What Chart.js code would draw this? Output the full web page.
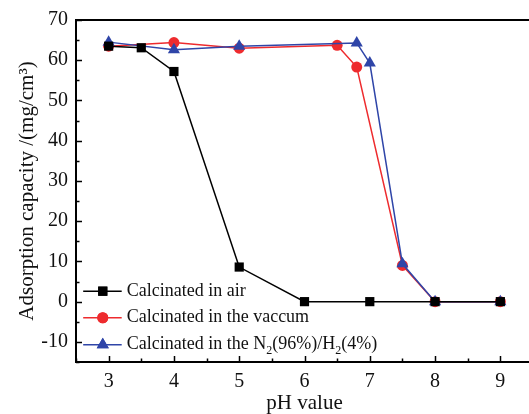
<!DOCTYPE html>
<html>
<head>
<meta charset="utf-8">
<script src="https://cdn.jsdelivr.net/npm/chart.js@4/dist/chart.umd.min.js"></script>
<style>
html,body{margin:0;padding:0;background:#fff;overflow:hidden;width:529px;height:414px;}
#wrap{position:relative;width:540px;height:414px;}
</style>
</head>
<body>
<div id="wrap"><canvas id="c" width="540" height="414"></canvas></div>
<script>
// ---- data ----
const seriesNames = ["Calcinated in air", "Calcinated in the vaccum", "Calcinated in the N2(96%)/H2(4%)"];
const phAir = [3, 3.5, 4, 5, 6, 7, 8, 9];
const airValues = [63.5, 63.1, 57.2, 8.6, 0, 0, 0, 0];
const phVac = [3, 4, 5, 6.5, 6.8, 7.5, 8, 9];
const vacValues = [63.5, 64.4, 63.0, 63.7, 58.3, 9.0, 0, 0];
const phN2 = [3, 4, 5, 6.8, 7, 7.5, 8, 9];
const n2Values = [64.5, 62.6, 63.5, 64.3, 59.3, 9.4, 0, 0];
const xTicks = [3, 4, 5, 6, 7, 8, 9];
const yTicks = [-10, 0, 10, 20, 30, 40, 50, 60, 70];

const toPts = (xs, ys) => xs.map((x, i) => ({x: x, y: ys[i]}));
const FONT = "'Liberation Serif', 'Times New Roman', serif";

const frameAndTicks = {
  id: 'frameAndTicks',
  afterDatasetsDraw(chart) {
    const ctx = chart.ctx, a = chart.chartArea;
    const xs = chart.scales.x, ys = chart.scales.y;
    ctx.save();
    ctx.strokeStyle = '#000';
    ctx.lineWidth = 1.5;
    ctx.beginPath();
    for (let v = -15; v <= 70; v += 5) {
      const y = Math.round(ys.getPixelForValue(v)) + 0.5;
      const len = (v % 10 === 0) ? 6 : 3.5;
      ctx.moveTo(a.left, y); ctx.lineTo(a.left + len, y);
    }
    for (let v = 2.5; v <= 9.5; v += 0.5) {
      const x = Math.round(xs.getPixelForValue(v)) + 0.5;
      const len = (Math.abs(v - Math.round(v)) < 1e-6) ? 6 : 3.5;
      ctx.moveTo(x, a.bottom); ctx.lineTo(x, a.bottom - len);
    }
    ctx.stroke();
    ctx.lineWidth = 2;
    ctx.strokeRect(a.left, a.top, a.right - a.left, a.bottom - a.top);
    ctx.restore();
  }
};

const insideLegend = {
  id: 'insideLegend',
  afterDraw(chart) {
    const ctx = chart.ctx;
    const xs = chart.scales.x, ys = chart.scales.y;
    const x0 = xs.getPixelForValue(2.61), x1 = xs.getPixelForValue(3.2);
    const rowY = [ys.getPixelForValue(2.6), ys.getPixelForValue(-4.0), ys.getPixelForValue(-10.7)];
    ctx.save();
    chart.data.datasets.forEach((ds, i) => {
      const y = rowY[i];
      ctx.strokeStyle = ds.borderColor;
      ctx.lineWidth = 1.6;
      ctx.beginPath(); ctx.moveTo(x0, y); ctx.lineTo(x1, y); ctx.stroke();
      const mx = xs.getPixelForValue(2.91);
      ctx.fillStyle = ds.pointBackgroundColor;
      Chart.helpers.drawPoint(ctx, {pointStyle: ds.pointStyle, radius: ds.pointRadius, borderWidth: 0, rotation: 0}, mx, y);
      ctx.fill();
      ctx.fillStyle = '#111';
      ctx.textBaseline = 'middle';
      ctx.textAlign = 'left';
      let tx = x1 + 5;
      const name = seriesNames[i];
      const parts = name.split(/(?<=[NH])2/);
      for (let p = 0; p < parts.length; p++) {
        ctx.font = '18px ' + FONT;
        ctx.fillText(parts[p], tx, y);
        tx += ctx.measureText(parts[p]).width;
        if (p < parts.length - 1) {
          ctx.font = '12px ' + FONT;
          ctx.fillText('2', tx, y + 6);
          tx += ctx.measureText('2').width;
        }
      }
    });
    ctx.restore();
  }
};

new Chart(document.getElementById('c'), {
  type: 'line',
  data: {
    datasets: [
      { label: seriesNames[0], data: toPts(phAir, airValues), borderColor: '#000', backgroundColor: '#000',
        pointBackgroundColor: '#000', pointBorderColor: '#000', pointStyle: 'rect', pointRadius: 6.5, pointBorderWidth: 0,
        borderWidth: 1.5, order: 0, tension: 0 },
      { label: seriesNames[1], data: toPts(phVac, vacValues), borderColor: '#ee2b2e', backgroundColor: '#ee2b2e',
        pointBackgroundColor: '#ee2b2e', pointBorderColor: '#ee2b2e', pointStyle: 'circle', pointRadius: 5.5, pointBorderWidth: 0,
        borderWidth: 1.5, order: 2, tension: 0 },
      { label: seriesNames[2], data: toPts(phN2, n2Values), borderColor: '#2f45a8', backgroundColor: '#2f45a8',
        pointBackgroundColor: '#2f45a8', pointBorderColor: '#2f45a8', pointStyle: 'triangle', pointRadius: 7, pointBorderWidth: 0,
        borderWidth: 1.5, order: 1, tension: 0 }
    ]
  },
  options: {
    responsive: false,
    animation: false,
    devicePixelRatio: 1,
    layout: { padding: { top: 20, right: 2, left: 0, bottom: 0 } },
    plugins: { legend: { display: false }, tooltip: { enabled: false } },
    scales: {
      x: {
        type: 'linear', min: 2.5, max: 9.5,
        afterBuildTicks: (s) => { s.ticks = xTicks.map(v => ({value: v})); },
        afterFit: (s) => { s.height = 52; },
        grid: { display: false, drawTicks: false },
        border: { display: false },
        ticks: { color: '#111', font: { family: FONT, size: 20 }, padding: 8, maxRotation: 0 },
        title: { display: true, text: 'pH value', color: '#111', font: { family: FONT, size: 21 }, padding: { top: 0, bottom: -2 } }
      },
      y: {
        type: 'linear', min: -15, max: 70,
        afterBuildTicks: (s) => { s.ticks = yTicks.map(v => ({value: v})); },
        afterFit: (s) => { s.width = 76; },
        grid: { display: false, drawTicks: false },
        border: { display: false },
        ticks: { color: '#111', font: { family: FONT, size: 20 }, padding: 8 },
        title: { display: true, text: 'Adsorption capacity /(mg/cm\u00B3)', color: '#111', font: { family: FONT, size: 21 }, padding: { top: 15, bottom: 0 } }
      }
    }
  },
  plugins: [frameAndTicks, insideLegend]
});
</script>
</body>
</html>
